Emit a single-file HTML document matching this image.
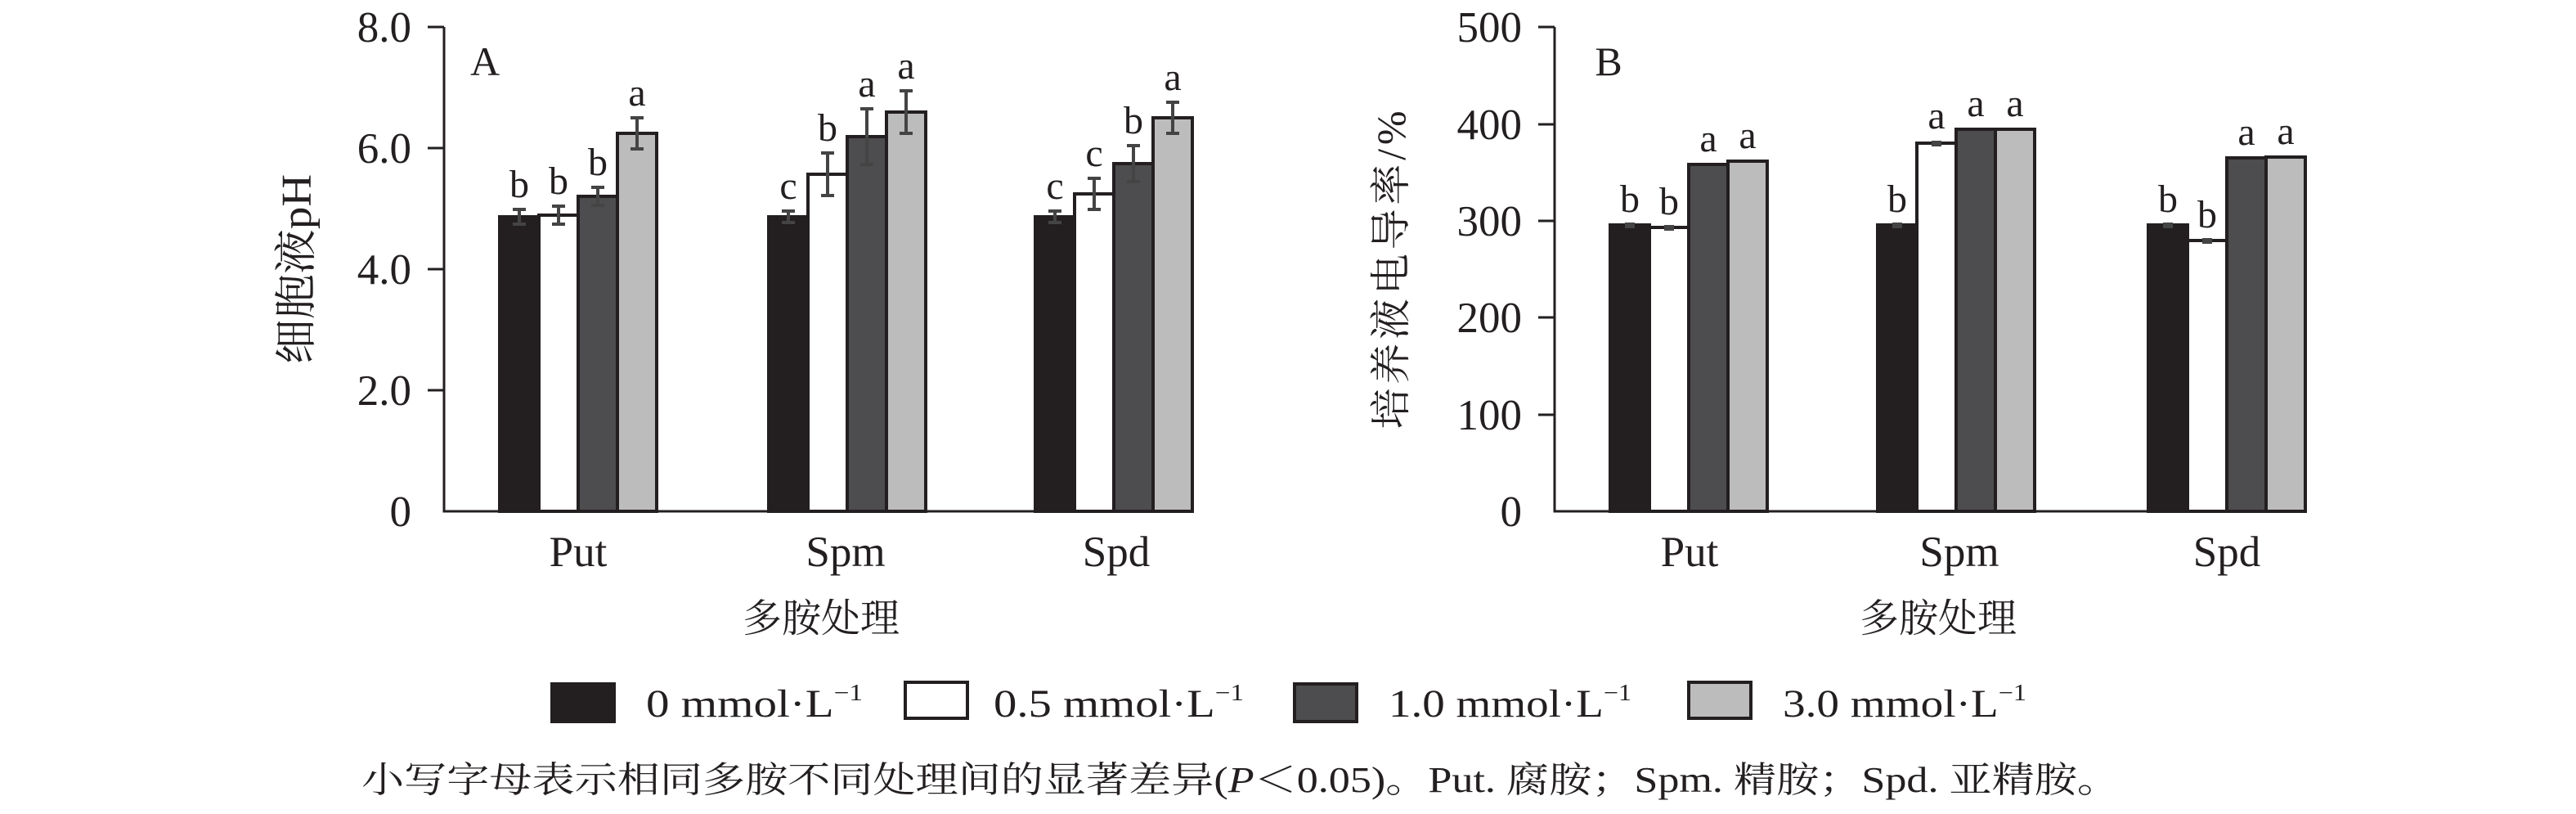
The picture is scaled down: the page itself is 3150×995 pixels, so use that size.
<!DOCTYPE html>
<html><head><meta charset="utf-8"><style>
html,body{margin:0;padding:0;background:#fff;}
svg{display:block;}
text{font-family:"Liberation Serif","Noto Serif CJK SC",serif;fill:#231f20;}
.t{font-size:53px;}
.cn{font-family:"Liberation Serif","Noto Serif CJK SC",serif;}
</style></head><body>
<svg width="3150" height="995" viewBox="0 0 3150 995" xmlns="http://www.w3.org/2000/svg">
<g stroke="#231f20" stroke-width="4">
<rect x="611" y="265" width="48" height="360" fill="#231f20"/>
<rect x="659" y="263" width="48" height="362" fill="#fff"/>
<rect x="707" y="240" width="48" height="385" fill="#4d4c4e"/>
<rect x="755" y="163" width="48" height="462" fill="#bcbcbc"/>
<rect x="940" y="265" width="48" height="360" fill="#231f20"/>
<rect x="988" y="213" width="48" height="412" fill="#fff"/>
<rect x="1036" y="167" width="48" height="458" fill="#4d4c4e"/>
<rect x="1084" y="137" width="48" height="488" fill="#bcbcbc"/>
<rect x="1266" y="265" width="48" height="360" fill="#231f20"/>
<rect x="1314" y="237" width="48" height="388" fill="#fff"/>
<rect x="1362" y="200" width="48" height="425" fill="#4d4c4e"/>
<rect x="1410" y="144" width="48" height="481" fill="#bcbcbc"/>
<rect x="1969" y="275" width="48" height="350" fill="#231f20"/>
<rect x="2017" y="278" width="48" height="347" fill="#fff"/>
<rect x="2065" y="201" width="48" height="424" fill="#4d4c4e"/>
<rect x="2113" y="197" width="48" height="428" fill="#bcbcbc"/>
<rect x="2296" y="275" width="48" height="350" fill="#231f20"/>
<rect x="2344" y="175" width="48" height="450" fill="#fff"/>
<rect x="2392" y="158" width="48" height="467" fill="#4d4c4e"/>
<rect x="2440" y="158" width="48" height="467" fill="#bcbcbc"/>
<rect x="2627" y="275" width="48" height="350" fill="#231f20"/>
<rect x="2675" y="294" width="48" height="331" fill="#fff"/>
<rect x="2723" y="193" width="48" height="432" fill="#4d4c4e"/>
<rect x="2771" y="192" width="48" height="433" fill="#bcbcbc"/>
</g>
<g stroke="#444" stroke-width="4" fill="none">
<path d="M635 256V274M627 256H643M627 274H643"/>
<path d="M683 252V274M675 252H691M675 274H691"/>
<path d="M731 229V251M723 229H739M723 251H739"/>
<path d="M779 144V182M771 144H787M771 182H787"/>
<path d="M964 258V272M956 258H972M956 272H972"/>
<path d="M1012 187V239M1004 187H1020M1004 239H1020"/>
<path d="M1060 133V201M1052 133H1068M1052 201H1068"/>
<path d="M1108 111V163M1100 111H1116M1100 163H1116"/>
<path d="M1290 258V272M1282 258H1298M1282 272H1298"/>
<path d="M1338 218V256M1330 218H1346M1330 256H1346"/>
<path d="M1386 178V222M1378 178H1394M1378 222H1394"/>
<path d="M1434 125V163M1426 125H1442M1426 163H1442"/>
</g>
<g fill="#444">
<rect x="1987" y="272" width="12" height="7"/><rect x="2035" y="275" width="12" height="7"/>
<rect x="2314" y="272" width="12" height="7"/><rect x="2362" y="172" width="12" height="7"/>
<rect x="2645" y="272" width="12" height="7"/><rect x="2693" y="291" width="12" height="7"/>
</g>
<g stroke="#231f20" stroke-width="3" fill="none">
<path d="M543 33V625H1460"/>
<path d="M523 33H543M523 181H543M523 329H543M523 477H543"/>
<path d="M1901 33V625H2818"/>
<path d="M1881 33H1901M1881 152H1901M1881 270H1901M1881 388H1901M1881 507H1901"/>
</g>
<g class="t" text-anchor="end">
<text x="503" y="51">8.0</text><text x="503" y="199">6.0</text><text x="503" y="347">4.0</text><text x="503" y="495">2.0</text><text x="503" y="643">0</text>
<text x="1861" y="51">500</text><text x="1861" y="170">400</text><text x="1861" y="288">300</text><text x="1861" y="406">200</text><text x="1861" y="525">100</text><text x="1861" y="643">0</text>
</g>
<g class="t" text-anchor="middle">
<text x="707" y="692">Put</text><text x="1034" y="692">Spm</text><text x="1365" y="692">Spd</text>
<text x="2066" y="692">Put</text><text x="2396" y="692">Spm</text><text x="2723" y="692">Spd</text>
</g>
<g font-size="48" text-anchor="middle">
<text x="635" y="241">b</text><text x="683" y="237">b</text><text x="731" y="214">b</text><text x="779" y="129">a</text>
<text x="964" y="243">c</text><text x="1012" y="172">b</text><text x="1060" y="118">a</text><text x="1108" y="96">a</text>
<text x="1290" y="243">c</text><text x="1338" y="203">c</text><text x="1386" y="163">b</text><text x="1434" y="110">a</text>
<text x="1993" y="259">b</text><text x="2041" y="262">b</text><text x="2089" y="185">a</text><text x="2137" y="181">a</text>
<text x="2320" y="259">b</text><text x="2368" y="157">a</text><text x="2416" y="142">a</text><text x="2464" y="142">a</text>
<text x="2651" y="259">b</text><text x="2699" y="278">b</text><text x="2747" y="177">a</text><text x="2795" y="176">a</text>
</g>
<text font-size="50" x="593" y="92" text-anchor="middle">A</text>
<text font-size="50" x="1967" y="92" text-anchor="middle">B</text>
<text class="cn" font-size="52" text-anchor="middle" textLength="232" lengthAdjust="spacingAndGlyphs" transform="translate(380,329) rotate(-90)">细胞液pH</text>
<text class="cn" font-size="50" text-anchor="middle" textLength="389" lengthAdjust="spacing" transform="translate(1718,330) rotate(-90)">培养液电导率/%</text>
<text class="cn" font-size="48" x="1004" y="772" text-anchor="middle">多胺处理</text>
<text class="cn" font-size="48" x="2370" y="772" text-anchor="middle">多胺处理</text>
<rect x="675" y="836" width="76" height="46" fill="#231f20" stroke="#231f20" stroke-width="4"/>
<rect x="1107" y="834" width="76" height="44" fill="#fff" stroke="#231f20" stroke-width="4"/>
<rect x="1583" y="836" width="76" height="46" fill="#4d4c4e" stroke="#231f20" stroke-width="4"/>
<rect x="2065" y="834" width="76" height="44" fill="#bcbcbc" stroke="#231f20" stroke-width="4"/>
<g font-size="48">
<text x="790" y="876" textLength="265" lengthAdjust="spacingAndGlyphs">0 mmol·L<tspan font-size="28" dy="-20">−1</tspan></text>
<text x="1215" y="876" textLength="306" lengthAdjust="spacingAndGlyphs">0.5 mmol·L<tspan font-size="28" dy="-20">−1</tspan></text>
<text x="1698" y="876" textLength="297" lengthAdjust="spacingAndGlyphs">1.0 mmol·L<tspan font-size="28" dy="-20">−1</tspan></text>
<text x="2180" y="876" textLength="298" lengthAdjust="spacingAndGlyphs">3.0 mmol·L<tspan font-size="28" dy="-20">−1</tspan></text>
</g>
<text class="cn" font-size="44" x="442" y="968" textLength="2150" lengthAdjust="spacingAndGlyphs">小写字母表示相同多胺不同处理间的显著差异(<tspan font-style="italic">P</tspan>＜0.05)。Put. 腐胺；Spm. 精胺；Spd. 亚精胺。</text>
</svg>
</body></html>
